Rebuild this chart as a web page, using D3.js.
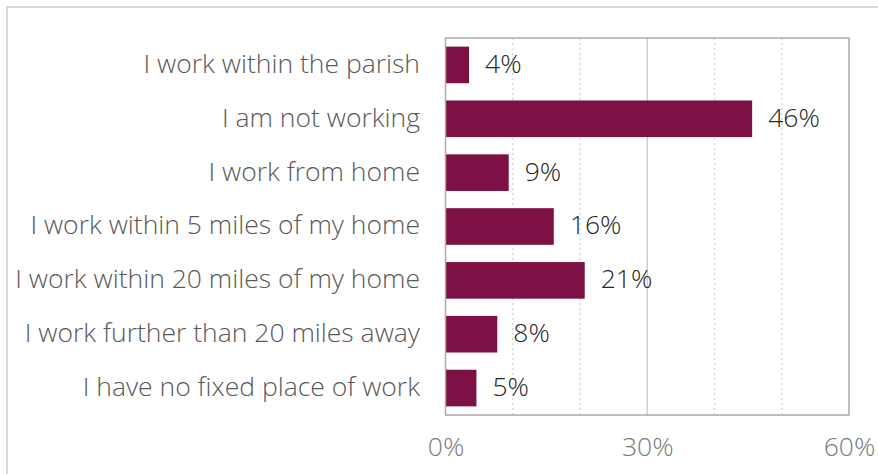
<!DOCTYPE html>
<html>
<head>
<meta charset="utf-8">
<script src="https://cdn.jsdelivr.net/npm/d3@7"></script>
<style>
  html, body { margin: 0; padding: 0; background: #ffffff; }
  svg { display: block; }
  text { font-family: "Open Sans", Lato, sans-serif; font-weight: 300; }
</style>
</head>
<body>
<svg id="chart" width="878" height="474"></svg>
<script>
// Where respondents work (share of respondents, %)
const categories = [
  "I work within the parish",
  "I am not working",
  "I work from home",
  "I work within 5 miles of my home",
  "I work within 20 miles of my home",
  "I work further than 20 miles away",
  "I have no fixed place of work"
];
const shares = [3.5, 45.6, 9.4, 16.1, 20.7, 7.7, 4.6];
const tickValues = [0, 30, 60];
const gridValues = [10, 20, 30, 40, 50];

const data = categories.map((c, i) => ({ category: c, value: shares[i] }));

const svg = d3.select("#chart");
const W = 878, H = 474;
const plot = { left: 445.5, right: 849, top: 38, bottom: 415 };
const fontSize = 26.5;

// outer frame (top and left edges visible)
svg.append("path")
  .attr("d", `M7,${H} L7,7 L${W},7`)
  .attr("fill", "none")
  .attr("stroke", "#d9d9d9")
  .attr("stroke-width", 2);

const x = d3.scaleLinear().domain([0, 60]).range([plot.left, plot.right]);
const y = d3.scaleBand()
  .domain(categories)
  .range([plot.top, plot.bottom])
  .paddingInner(0.32)
  .paddingOuter(0.16);

// vertical gridlines: solid at 30%, dotted elsewhere
svg.append("g").selectAll("line")
  .data(gridValues)
  .join("line")
  .attr("x1", d => x(d)).attr("x2", d => x(d))
  .attr("y1", plot.top).attr("y2", plot.bottom)
  .attr("stroke", d => d === 30 ? "#cfcfcf" : "#d9d9d9")
  .attr("stroke-width", 1.5)
  .attr("stroke-dasharray", d => d === 30 ? null : "2,3");

// bars
svg.append("g").selectAll("rect")
  .data(data)
  .join("rect")
  .attr("x", x(0))
  .attr("y", d => y(d.category))
  .attr("width", d => x(d.value) - x(0))
  .attr("height", y.bandwidth())
  .attr("fill", "#7d1044");

// plot area border
svg.append("rect")
  .attr("x", plot.left).attr("y", plot.top)
  .attr("width", plot.right - plot.left)
  .attr("height", plot.bottom - plot.top)
  .attr("fill", "none")
  .attr("stroke", "#ababab")
  .attr("stroke-width", 1.5);

// value labels
svg.append("g").selectAll("text")
  .data(data)
  .join("text")
  .attr("x", d => x(d.value) + 16)
  .attr("y", d => y(d.category) + y.bandwidth() / 2)
  .attr("dy", "0.3em")
  .attr("font-size", fontSize)
  .attr("fill", "#262626")
  .text(d => Math.round(d.value) + "%");

// category axis labels
svg.append("g").selectAll("text")
  .data(data)
  .join("text")
  .attr("x", 420)
  .attr("y", d => y(d.category) + y.bandwidth() / 2)
  .attr("dy", "0.3em")
  .attr("text-anchor", "end")
  .attr("font-size", fontSize)
  .attr("fill", "#595959")
  .text(d => d.category);

// x axis tick labels
const xAxis = d3.axisBottom(x)
  .tickValues(tickValues)
  .tickSize(0)
  .tickPadding(0)
  .tickFormat(d => d + "%");
const ax = svg.append("g")
  .attr("transform", `translate(0,${plot.bottom})`)
  .call(xAxis);
ax.select(".domain").remove();
ax.selectAll("text")
  .attr("y", 41)
  .attr("dy", 0)
  .attr("font-size", fontSize)
  .attr("font-family", "'Open Sans', Lato, sans-serif")
  .attr("font-weight", 300)
  .attr("fill", "#7a7a7a");
</script>
</body>
</html>
